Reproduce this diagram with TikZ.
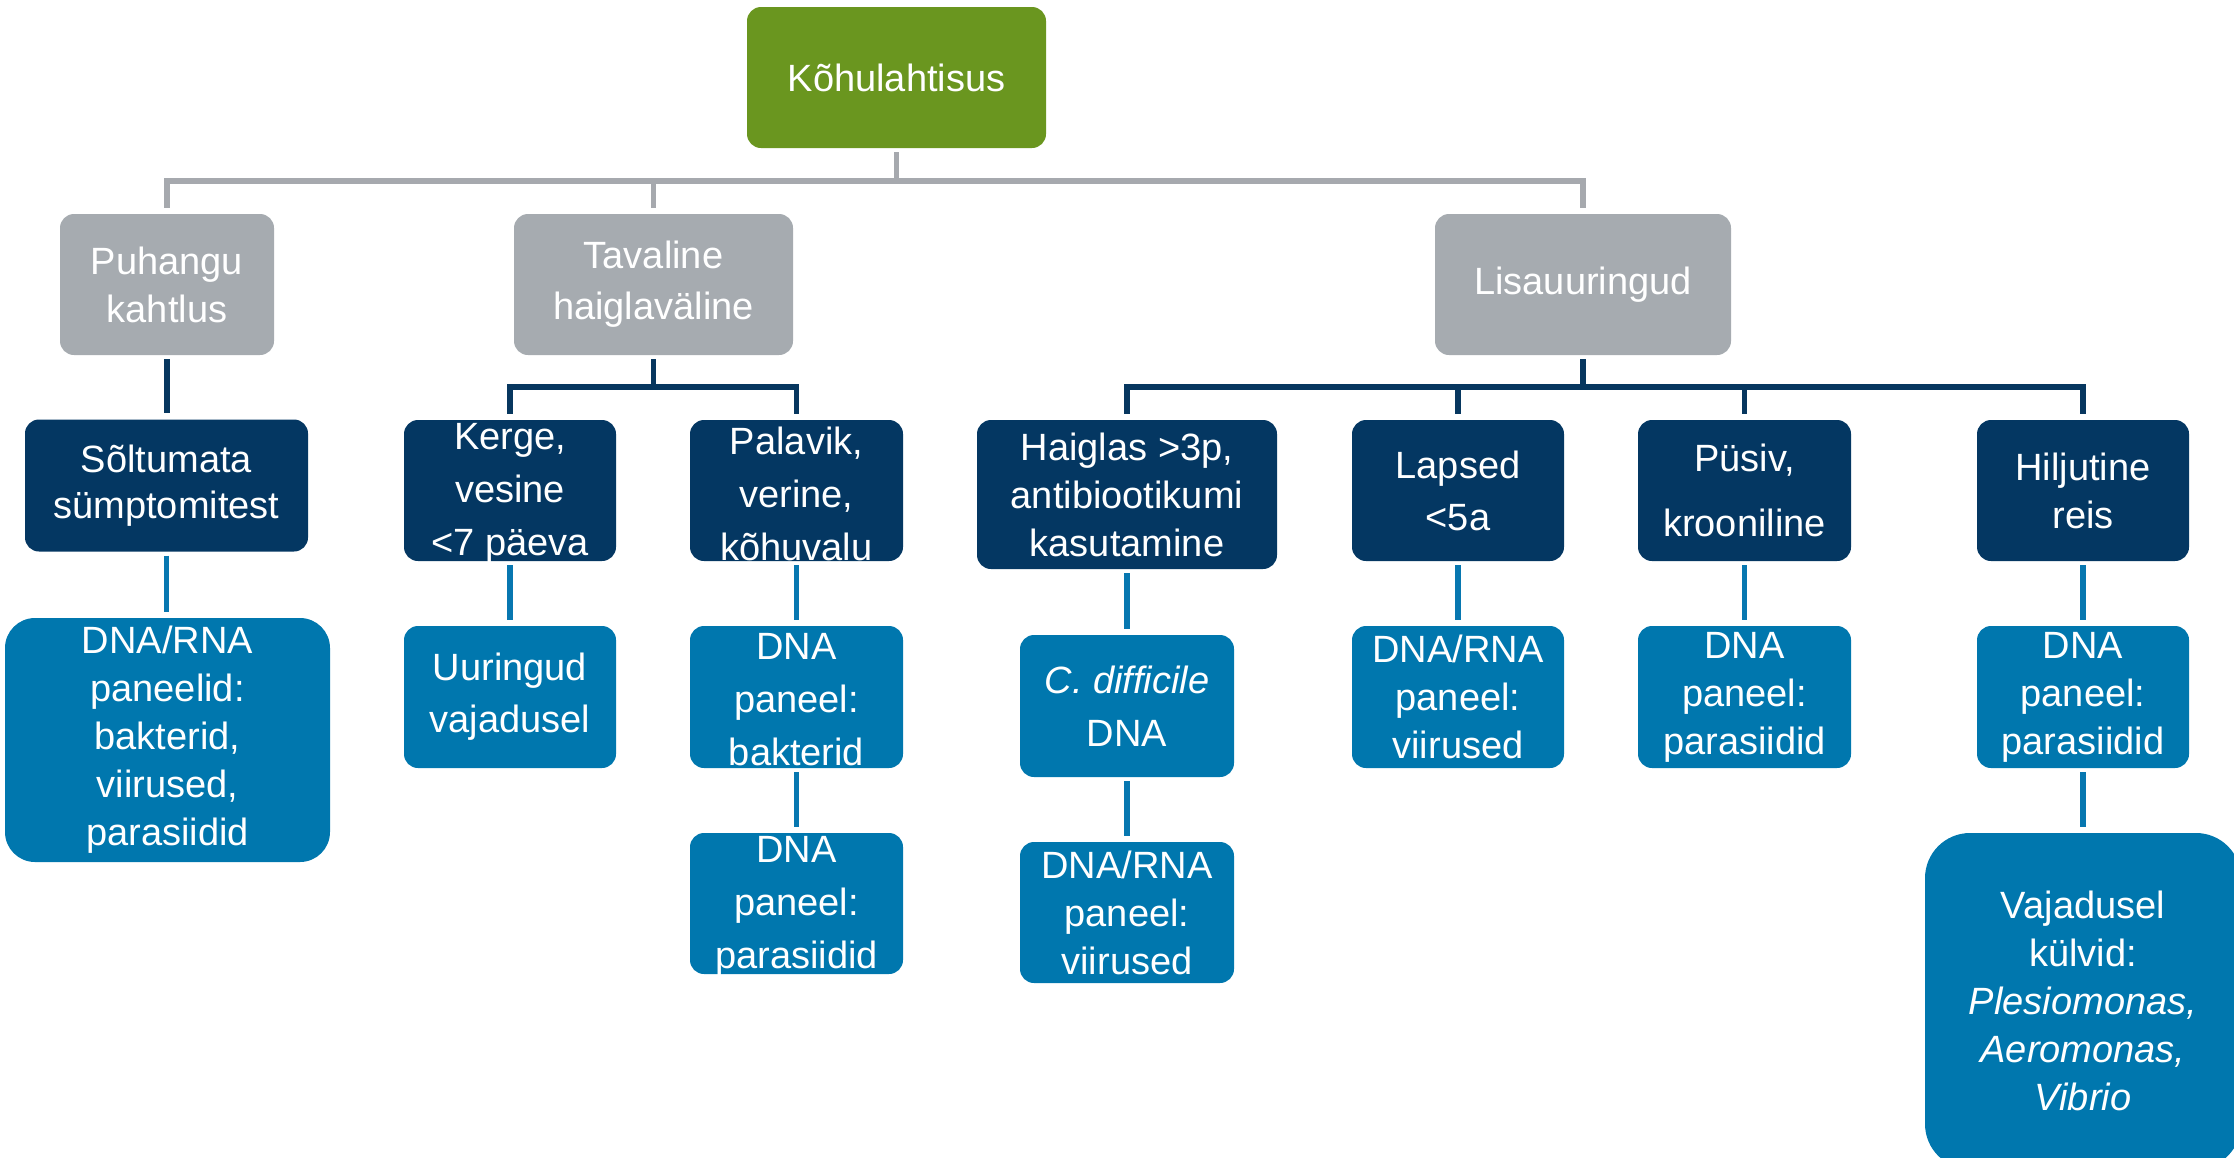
\documentclass[tikz,border=0pt]{standalone}
\usepackage{fontspec}
\setmainfont{Liberation Sans}
\usetikzlibrary{calc}
\definecolor{cgreen}{HTML}{6A961F}
\definecolor{cgray}{HTML}{A6ABB0}
\definecolor{cnavy}{HTML}{043762}
\definecolor{cblue}{HTML}{0077AE}
\definecolor{lgray}{HTML}{A6A9AE}
\definecolor{lnavy}{HTML}{07375F}
\definecolor{lblue}{HTML}{0777B0}
\begin{document}
\begin{tikzpicture}[x=1pt,y=-1pt,
  boxs/.style={rectangle, rounded corners=14pt, inner sep=0pt, draw=none},
  greenbox/.style={boxs, fill=cgreen},
  graybox/.style={boxs, fill=cgray},
  navybox/.style={boxs, fill=cnavy},
  bluebox/.style={boxs, fill=cblue},
  txt/.style={text=white, align=center, inner sep=0pt, font=\fontsize{38}{48}\selectfont},
  txtw/.style={txt, font=\fontsize{38}{53}\selectfont},
  conn/.style={line width=5.5pt, shorten <=4pt, shorten >=6pt},
  gline/.style={conn, draw=lgray},
  nline/.style={conn, draw=lnavy},
  bline/.style={conn, draw=lblue}]
\useasboundingbox (0,0) rectangle (2234,1157);

% level 0
\node[greenbox, minimum width=299pt, minimum height=141pt] (root) at (896.5,77.5) {};
\node[txt] (root-t) at (root) {Kõhulahtisus};

% level 1
\node[graybox, minimum width=214pt, minimum height=141pt] (puh) at (167,284.5) {};
\node[txt] (puh-t) at (puh) {Puhangu\\kahtlus};
\node[graybox, minimum width=279pt, minimum height=141pt] (tav) at (653.5,284.5) {};
\node[txt, font=\fontsize{38}{51}\selectfont] (tav-t) at (tav) {Tavaline\\haiglaväline};
\node[graybox, minimum width=296pt, minimum height=141pt] (lis) at (1583,284.5) {};
\node[txt] (lis-t) at (lis) {Lisauuringud};

% level 2
\node[navybox, minimum width=283pt, minimum height=132pt] (sol) at (166.5,485.5) {};
\node[txt, font=\fontsize{38}{46}\selectfont] (sol-t) at (sol) {Sõltumata\\sümptomitest};
\node[navybox, minimum width=212pt, minimum height=141pt] (ker) at (510,490.5) {};
\node[txtw] (ker-t) at ($(ker)+(0,3)$) {Kerge,\\vesine\\<7 päeva};
\node[navybox, minimum width=213pt, minimum height=141pt] (pal) at (796.5,490.5) {};
\node[txtw] (pal-t) at ($(pal)+(0,3)$) {Palavik,\\verine,\\kõhuvalu};
\node[navybox, minimum width=300pt, minimum height=149pt] (hai) at (1127,494.5) {};
\node[txt] (hai-t) at (hai) {Haiglas >3p,\\antibiootikumi\\kasutamine};
\node[navybox, minimum width=212pt, minimum height=141pt] (lap) at (1458,490.5) {};
\node[txt, font=\fontsize{38}{52}\selectfont] (lap-t) at (lap) {Lapsed\\<5a};
\node[navybox, minimum width=213pt, minimum height=141pt] (pus) at (1744.5,490.5) {};
\node[txt, font=\fontsize{38}{65}\selectfont] (pus-t) at (pus) {Püsiv,\\krooniline};
\node[navybox, minimum width=212pt, minimum height=141pt] (hil) at (2083,490.5) {};
\node[txt] (hil-t) at (hil) {Hiljutine\\reis};

% level 3
\node[bluebox, rounded corners=30pt, minimum width=325pt, minimum height=244pt] (dnaA) at (167.5,740) {};
\node[txt] (dnaA-t) at (dnaA) {DNA/RNA\\paneelid:\\bakterid,\\viirused,\\parasiidid};
\node[bluebox, minimum width=212pt, minimum height=142pt] (uur) at (510,697) {};
\node[txt, font=\fontsize{38}{52}\selectfont] (uur-t) at (uur) {Uuringud\\vajadusel};
\node[bluebox, minimum width=213pt, minimum height=142pt] (bak) at (796.5,697) {};
\node[txtw] (bak-t) at ($(bak)+(0,3)$) {DNA\\paneel:\\bakterid};
\node[bluebox, minimum width=213pt, minimum height=141pt] (par1) at (796.5,903.5) {};
\node[txtw] (par1-t) at ($(par1)+(0,3)$) {DNA\\paneel:\\parasiidid};
\node[bluebox, minimum width=214pt, minimum height=142pt] (cdi) at (1127,706) {};
\node[txtw] (cdi-t) at (cdi) {\textit{C. difficile}\\DNA};
\node[bluebox, minimum width=214pt, minimum height=141pt] (vir2) at (1127,912.5) {};
\node[txt] (vir2-t) at (vir2) {DNA/RNA\\paneel:\\viirused};
\node[bluebox, minimum width=212pt, minimum height=142pt] (vir1) at (1458,697) {};
\node[txt] (vir1-t) at (vir1) {DNA/RNA\\paneel:\\viirused};
\node[bluebox, minimum width=213pt, minimum height=142pt] (par2) at (1744.5,697) {};
\node[txt] (par2-t) at (par2) {DNA\\paneel:\\parasiidid};
\node[bluebox, minimum width=212pt, minimum height=142pt] (par3) at (2083,697) {};
\node[txt] (par3-t) at (par3) {DNA\\paneel:\\parasiidid};
\node[bluebox, rounded corners=45pt, minimum width=316pt, minimum height=336pt] (vaj) at (2083,1001) {};
\node[txt] (vaj-t) at (vaj) {Vajadusel\\külvid:\\\textit{Plesiomonas,}\\\textit{Aeromonas,}\\\textit{Vibrio}};

% connectors level 0 -> 1
\draw[gline] (root.south) -- ++(0,33) -| (puh.north);
\draw[gline] (root.south) -- ++(0,33) -| (tav.north);
\draw[gline] (root.south) -- ++(0,33) -| (lis.north);

% level 1 -> 2
\draw[nline] (puh.south) -- (puh.south |- sol.north);
\draw[nline] (tav.south) -- ++(0,32) -| (ker.north);
\draw[nline] (tav.south) -- ++(0,32) -| (pal.north);
\draw[nline] (lis.south) -- ++(0,32) -| (hai.north);
\draw[nline] (lis.south) -- ++(0,32) -| (lap.north);
\draw[nline] (lis.south) -- ++(0,32) -| (pus.north);
\draw[nline] (lis.south) -- ++(0,32) -| (hil.north);

% level 2 -> 3
\draw[bline] (sol.south) -- (sol.south |- dnaA.north);
\draw[bline] (ker.south) -- (ker.south |- uur.north);
\draw[bline] (pal.south) -- (pal.south |- bak.north);
\draw[bline] (bak.south) -- (bak.south |- par1.north);
\draw[bline] (hai.south) -- (hai.south |- cdi.north);
\draw[bline] (cdi.south) -- (cdi.south |- vir2.north);
\draw[bline] (lap.south) -- (lap.south |- vir1.north);
\draw[bline] (pus.south) -- (pus.south |- par2.north);
\draw[bline] (hil.south) -- (hil.south |- par3.north);
\draw[bline] (par3.south) -- (par3.south |- vaj.north);
\end{tikzpicture}
\end{document}
